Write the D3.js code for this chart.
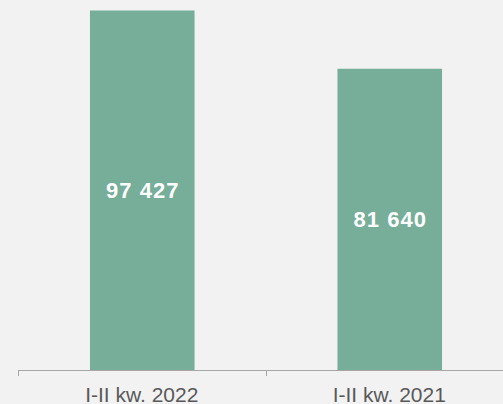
<!DOCTYPE html>
<html>
<head>
<meta charset="utf-8">
<script src="https://cdn.jsdelivr.net/npm/d3@7"></script>
<style>
html,body{margin:0;padding:0;background:#f2f2f2;}
svg{display:block;}
</style>
</head>
<body>
<svg id="chart" width="503" height="404"></svg>
<script>
const categories = ["I-II kw. 2022", "I-II kw. 2021"];
const values = [97427, 81640];
const valueLabels = ["97 427", "81 640"];

const svg = d3.select("#chart");
const W = 503, H = 404;
svg.append("rect").attr("width", W).attr("height", H).attr("fill", "#f2f2f2");

const x = d3.scaleBand().domain(categories).range([18, 513]).padding(0);
const y = d3.scaleLinear().domain([0, 100000]).range([370, 1]);
const barW = x.bandwidth() * 0.4225;

svg.selectAll("rect.bar").data(values).enter().append("rect")
  .attr("class", "bar")
  .attr("x", (d, i) => x(categories[i]) + (x.bandwidth() - barW) / 2 + 0.5)
  .attr("y", d => y(d))
  .attr("width", barW)
  .attr("height", d => y(0) - y(d))
  .attr("fill", "#76ae9a");

svg.selectAll("text.val").data(values).enter().append("text")
  .attr("class", "val")
  .attr("x", (d, i) => x(categories[i]) + x.bandwidth() / 2 + 1)
  .attr("y", d => (y(d) + y(0)) / 2)
  .attr("dy", "0.36em")
  .attr("text-anchor", "middle")
  .attr("fill", "#ffffff")
  .attr("font-family", "Liberation Sans, Arial, sans-serif")
  .attr("font-weight", "bold")
  .attr("font-size", "22px")
  .attr("letter-spacing", "1px")
  .text((d, i) => valueLabels[i]);

const axis = d3.axisBottom(x).tickSizeInner(0).tickSizeOuter(0).tickFormat(d => d);
const g = svg.append("g").attr("transform", "translate(0,370)").call(axis);
g.select(".domain").attr("stroke", "#a6a6a6").attr("stroke-width", 1);
g.selectAll(".tick line").remove();
g.selectAll(".tick text")
  .attr("fill", "#595959")
  .attr("font-family", "Liberation Sans, Arial, sans-serif")
  .attr("font-size", "21px")
  .attr("y", 31.5)
  .attr("dy", 0);

// band boundary ticks
const bounds = categories.map(c => x(c));
svg.selectAll("line.bt").data(bounds).enter().append("line")
  .attr("class", "bt")
  .attr("x1", d => Math.round(d) + 0.5).attr("x2", d => Math.round(d) + 0.5)
  .attr("y1", 370).attr("y2", 376)
  .attr("stroke", "#a6a6a6").attr("stroke-width", 1);
</script>
</body>
</html>
